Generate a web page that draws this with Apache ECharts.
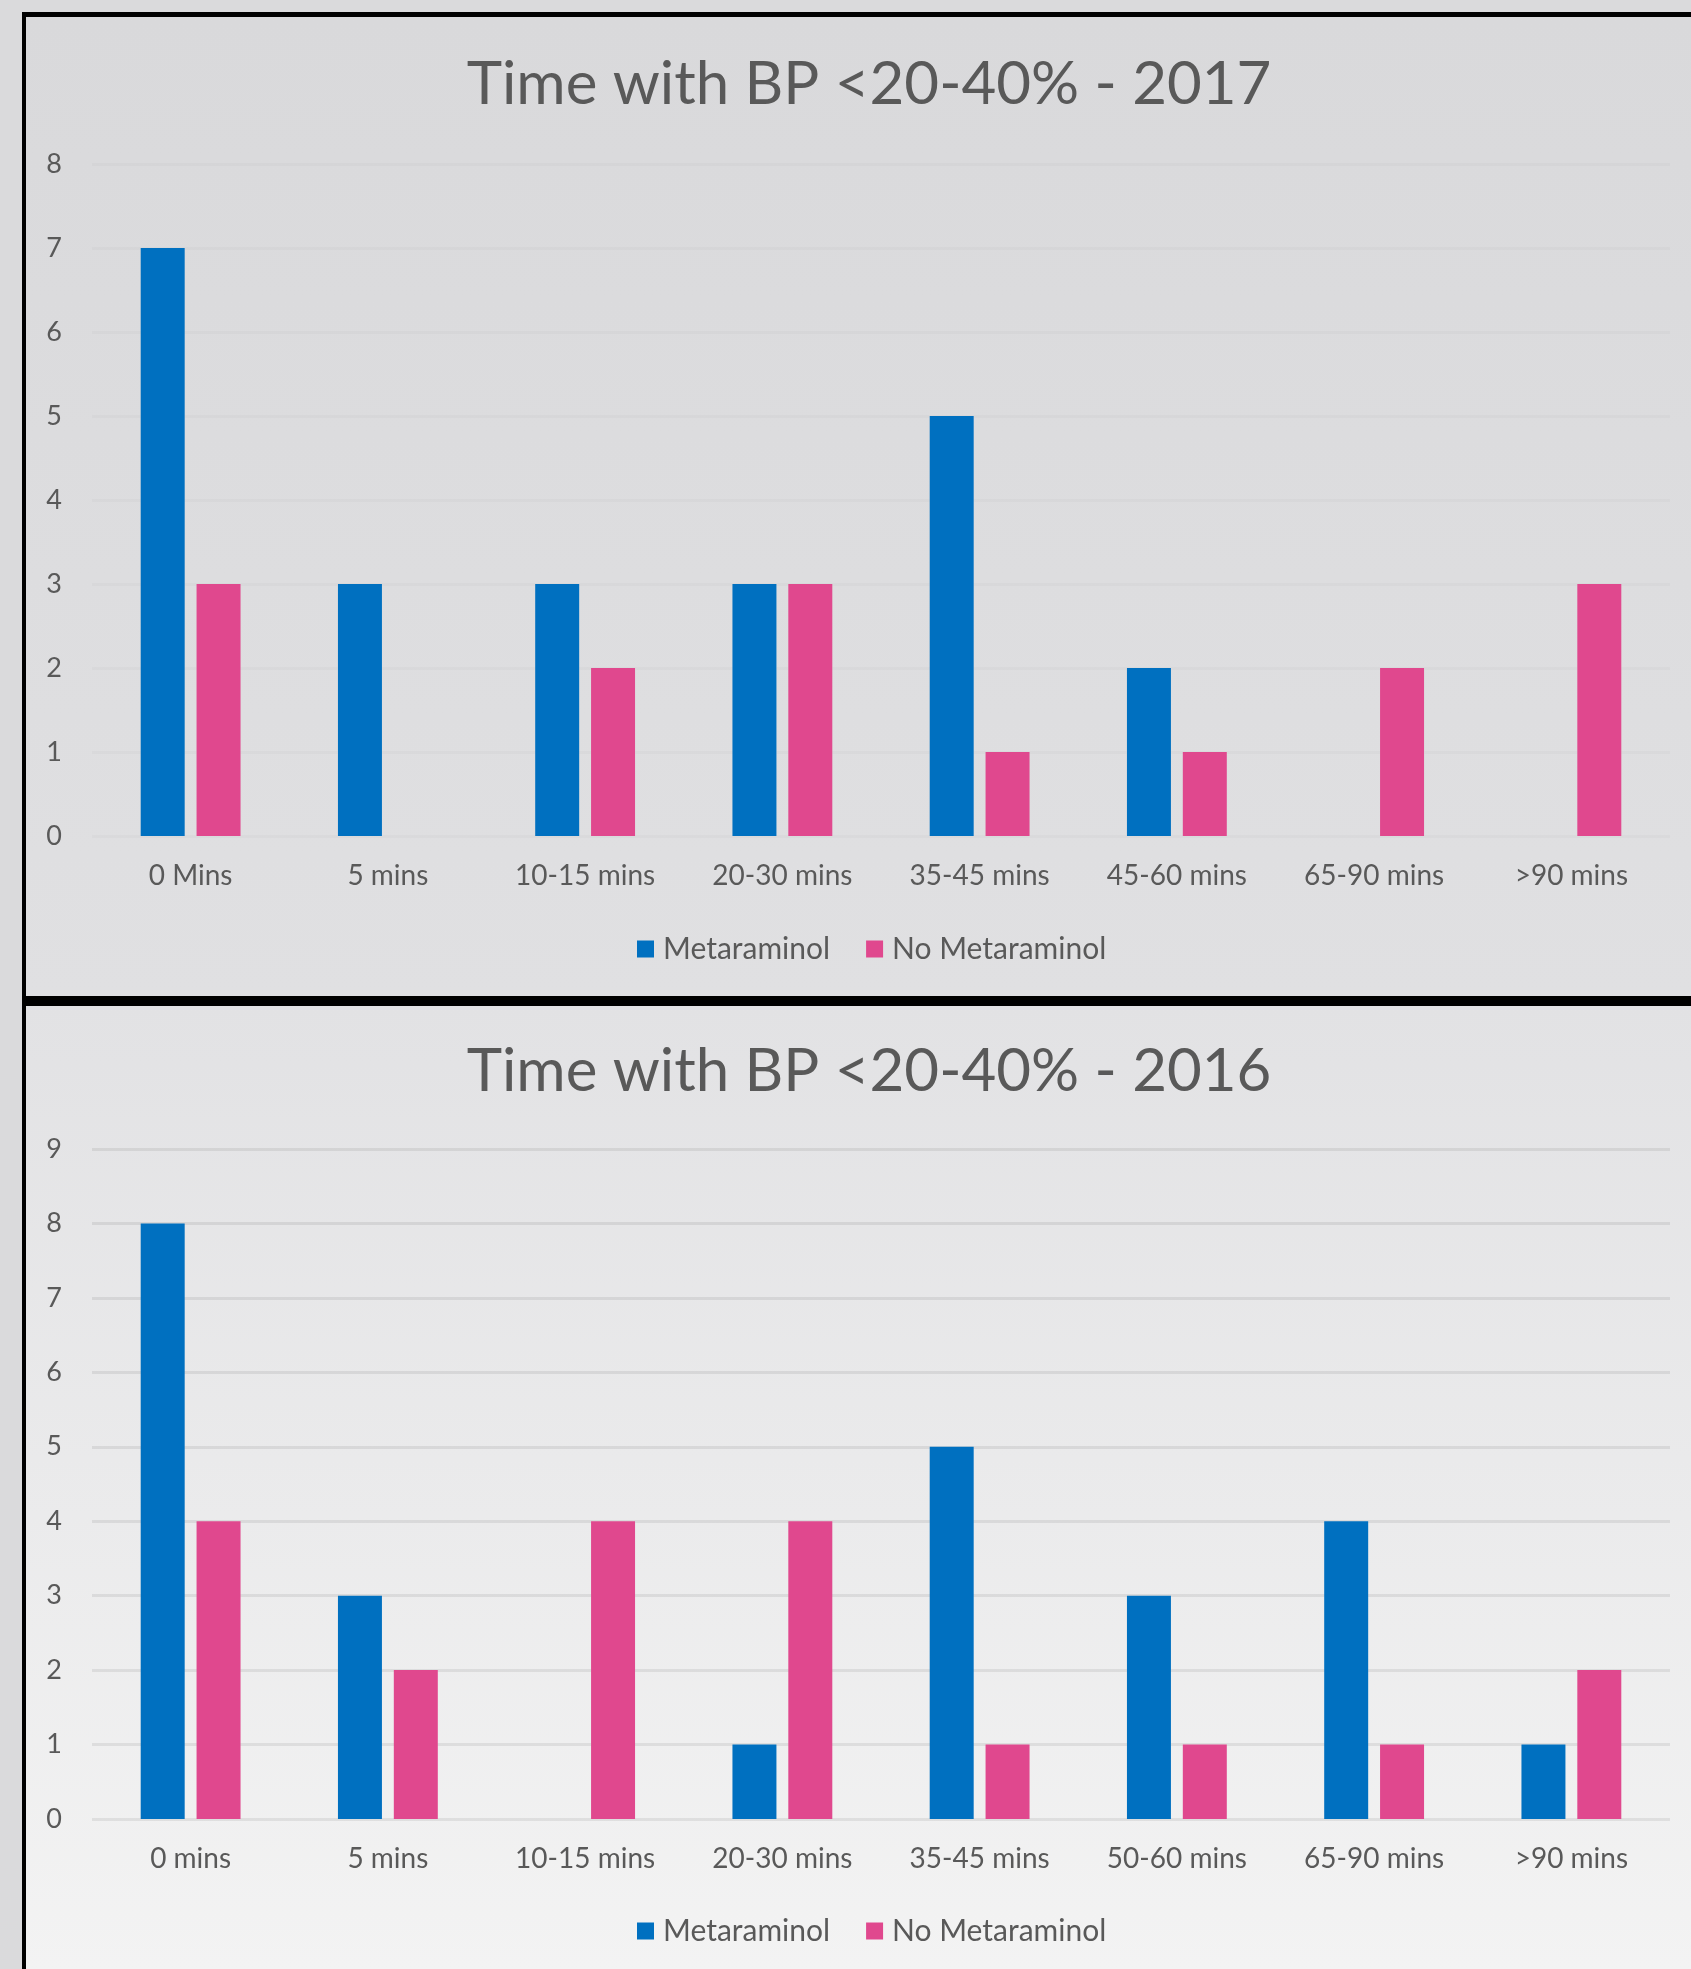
<!DOCTYPE html>
<html>
<head>
<meta charset="utf-8">
<script src="https://cdn.jsdelivr.net/npm/echarts@6/dist/echarts.min.js"></script>
<style>
  html, body { margin: 0; padding: 0; background: #dadadc; }
  body { width: 1691px; height: 1969px; position: relative; overflow: hidden; }
  .panel { position: absolute; left: 22px; right: 0; box-sizing: border-box; border-left: 4px solid #000; }
  #panelTop { top: 12px; height: 984px; border-top: 5px solid #000;
    background: linear-gradient(#d9d9db, #e0e0e2); }
  #panelBottom { top: 996px; bottom: 0; border-top: 10px solid #000;
    background: linear-gradient(#e2e2e4, #f3f3f3); }
  #chart { position: absolute; left: 0; top: 0; width: 1691px; height: 1969px; }
</style>
</head>
<body>
<div class="panel" id="panelTop"></div>
<div class="panel" id="panelBottom"></div>
<div id="chart"></div>
<script>
// Counts of patients by time spent with BP 20-40% below baseline
const categories2017 = ['0 Mins', '5 mins', '10-15 mins', '20-30 mins', '35-45 mins', '45-60 mins', '65-90 mins', '>90 mins'];
const metaraminol2017 = [7, 3, 3, 3, 5, 2, 0, 0];
const noMetaraminol2017 = [3, 0, 2, 3, 1, 1, 2, 3];

const categories2016 = ['0 mins', '5 mins', '10-15 mins', '20-30 mins', '35-45 mins', '50-60 mins', '65-90 mins', '>90 mins'];
const metaraminol2016 = [8, 3, 0, 1, 5, 3, 4, 1];
const noMetaraminol2016 = [4, 2, 4, 4, 1, 1, 1, 2];

const yTicks2017 = { min: 0, max: 8, interval: 1 };
const yTicks2016 = { min: 0, max: 9, interval: 1 };

const seriesNames = ['Metaraminol', 'No Metaraminol'];
const BLUE = '#0070c0';
const PINK = '#e0488e';
const TEXT = '#595959';
const FONT = 'Lato, "Open Sans", sans-serif';

const chart = echarts.init(document.getElementById('chart'), null, { renderer: 'canvas' });

function xAxis(gridIndex, data) {
  return {
    type: 'category', gridIndex, data,
    axisLine: { show: false }, axisTick: { show: false },
    axisLabel: { color: TEXT, fontSize: 28, fontFamily: FONT, margin: 26 }
  };
}
function yAxis(gridIndex, ticks, lineColor) {
  return {
    type: 'value', gridIndex, min: ticks.min, max: ticks.max, interval: ticks.interval,
    axisLine: { show: false }, axisTick: { show: false },
    axisLabel: { color: TEXT, fontSize: 27, fontFamily: FONT, margin: 30 },
    splitLine: { show: true, lineStyle: { color: lineColor, width: 3 } }
  };
}
function bar(name, idx, data, color) {
  return {
    name, type: 'bar', xAxisIndex: idx, yAxisIndex: idx, data,
    barWidth: '22.3%', barGap: '27%',
    itemStyle: { color }
  };
}
function legend(top) {
  return {
    data: seriesNames, top, left: 632, itemWidth: 17, itemHeight: 17, itemGap: 36,
    icon: 'rect', textStyle: { color: TEXT, fontSize: 30, fontFamily: FONT, padding: [0, 0, 0, 4] }
  };
}

chart.setOption({
  animation: false,
  backgroundColor: 'transparent',
  textStyle: { fontFamily: FONT },
  title: [
    { text: 'Time with BP <20-40% - 2017', left: 864, top: 50, textAlign: 'center',
      textStyle: { color: TEXT, fontSize: 60, fontWeight: 'normal', fontFamily: FONT } },
    { text: 'Time with BP <20-40% - 2016', left: 864, top: 1037, textAlign: 'center',
      textStyle: { color: TEXT, fontSize: 60, fontWeight: 'normal', fontFamily: FONT } }
  ],
  legend: [legend(929), legend(1911)],
  grid: [
    { left: 92, right: 21, top: 164, height: 672 },
    { left: 92, right: 21, top: 1149, height: 670 }
  ],
  xAxis: [xAxis(0, categories2017), xAxis(1, categories2016)],
  yAxis: [yAxis(0, yTicks2017, 'rgba(0,0,0,0.02)'), yAxis(1, yTicks2016, 'rgba(0,0,0,0.075)')],
  series: [
    bar(seriesNames[0], 0, metaraminol2017, BLUE),
    bar(seriesNames[1], 0, noMetaraminol2017, PINK),
    bar(seriesNames[0], 1, metaraminol2016, BLUE),
    bar(seriesNames[1], 1, noMetaraminol2016, PINK)
  ]
});
</script>
</body>
</html>
